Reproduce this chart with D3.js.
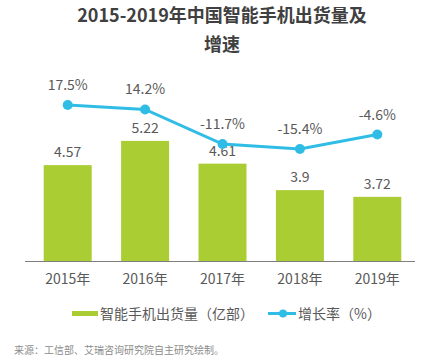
<!DOCTYPE html>
<html>
<head>
<meta charset="utf-8">
<script src="https://cdn.jsdelivr.net/npm/d3@7"></script>
<style>
  body { margin: 0; background: #fff; }
  svg { font-family: "Noto Sans CJK SC", "Noto Sans", sans-serif; }
</style>
</head>
<body>
<div class="chart"></div>
<script>
const years = ["2015年", "2016年", "2017年", "2018年", "2019年"];
const shipments = [4.57, 5.22, 4.61, 3.9, 3.72];
const growth = [17.5, 14.2, -11.7, -15.4, -4.6];
const growthLabels = ["17.5%", "14.2%", "-11.7%", "-15.4%", "-4.6%"];

const width = 425, height = 362;
const barColor = "#a9cd33";
const lineColor = "#2fbde6";
const textColor = "#595959";

const svg = d3.select(".chart").append("svg")
  .attr("width", width)
  .attr("height", height);

// title
svg.append("text")
  .attr("x", 222).attr("y", 22)
  .attr("text-anchor", "middle")
  .attr("font-size", 18).attr("font-weight", "bold")
  .attr("fill", "#404040")
  .text("2015-2019年中国智能手机出货量及");
svg.append("text")
  .attr("x", 222).attr("y", 51)
  .attr("text-anchor", "middle")
  .attr("font-size", 18).attr("font-weight", "bold")
  .attr("fill", "#404040")
  .text("增速");

const xScale = d3.scaleBand()
  .domain(years)
  .range([29, 416])
  .paddingInner(0.38)
  .paddingOuter(0.19);

// bars: axis floor at 2
const yScale = d3.scaleLinear().domain([2, 6]).range([261, 261 - 37.3 * 4]);

// growth line
const y2Scale = d3.scaleLinear().domain([-15.4, 17.5]).range([149, 105]);

// bars
svg.selectAll("rect.bar")
  .data(shipments)
  .enter()
  .append("rect")
  .attr("class", "bar")
  .attr("x", (d, i) => xScale(years[i]))
  .attr("y", (d) => yScale(d))
  .attr("width", xScale.bandwidth())
  .attr("height", (d) => yScale(2) - yScale(d))
  .attr("fill", barColor);

// bar labels
svg.selectAll("text.bar-label")
  .data(shipments)
  .enter()
  .append("text")
  .attr("class", "bar-label")
  .attr("x", (d, i) => xScale(years[i]) + xScale.bandwidth() / 2)
  .attr("y", (d) => yScale(d) - 8)
  .attr("text-anchor", "middle")
  .attr("font-size", 14)
  .attr("fill", textColor)
  .text((d) => d);

// x axis
const xAxis = d3.axisBottom(xScale).tickSize(0).tickPadding(13);
const axisG = svg.append("g")
  .attr("transform", "translate(0,261)")
  .call(xAxis);
axisG.select(".domain").attr("d", "M25,0.5H415").attr("stroke", "#7f7f7f").attr("stroke-width", 1.2);
axisG.selectAll("text")
  .attr("font-size", 14)
  .attr("fill", textColor)
  .attr("font-family", "\"Noto Sans CJK SC\", sans-serif");

// line
const cx = (i) => xScale(years[i]) + xScale.bandwidth() / 2;
const line = d3.line()
  .x((d, i) => cx(i))
  .y((d) => y2Scale(d));

svg.append("path")
  .datum(growth)
  .attr("d", line)
  .attr("fill", "none")
  .attr("stroke", lineColor)
  .attr("stroke-width", 3);

svg.selectAll("circle.pt")
  .data(growth)
  .enter()
  .append("circle")
  .attr("class", "pt")
  .attr("cx", (d, i) => cx(i))
  .attr("cy", (d) => y2Scale(d))
  .attr("r", 5)
  .attr("fill", lineColor);

svg.selectAll("text.line-label")
  .data(growth)
  .enter()
  .append("text")
  .attr("class", "line-label")
  .attr("x", (d, i) => cx(i))
  .attr("y", (d) => y2Scale(d) - 15)
  .attr("text-anchor", "middle")
  .attr("font-size", 14)
  .attr("fill", textColor)
  .text((d, i) => growthLabels[i]);

// legend
const legend = svg.append("g");
legend.append("rect")
  .attr("x", 72).attr("y", 311)
  .attr("width", 26).attr("height", 5)
  .attr("fill", barColor);
legend.append("text")
  .attr("x", 100).attr("y", 319)
  .attr("font-size", 14)
  .attr("fill", textColor)
  .text("智能手机出货量（亿部）");
legend.append("line")
  .attr("x1", 268).attr("x2", 296)
  .attr("y1", 313.5).attr("y2", 313.5)
  .attr("stroke", lineColor)
  .attr("stroke-width", 3);
legend.append("circle")
  .attr("cx", 283).attr("cy", 313.5)
  .attr("r", 4)
  .attr("fill", lineColor);
legend.append("text")
  .attr("x", 298).attr("y", 319)
  .attr("font-size", 14)
  .attr("fill", textColor)
  .text("增长率（%）");

// source
svg.append("text")
  .attr("x", 14).attr("y", 354)
  .attr("font-size", 10)
  .attr("fill", "#8c8c8c")
  .text("来源：工信部、艾瑞咨询研究院自主研究绘制。");
</script>
</body>
</html>
